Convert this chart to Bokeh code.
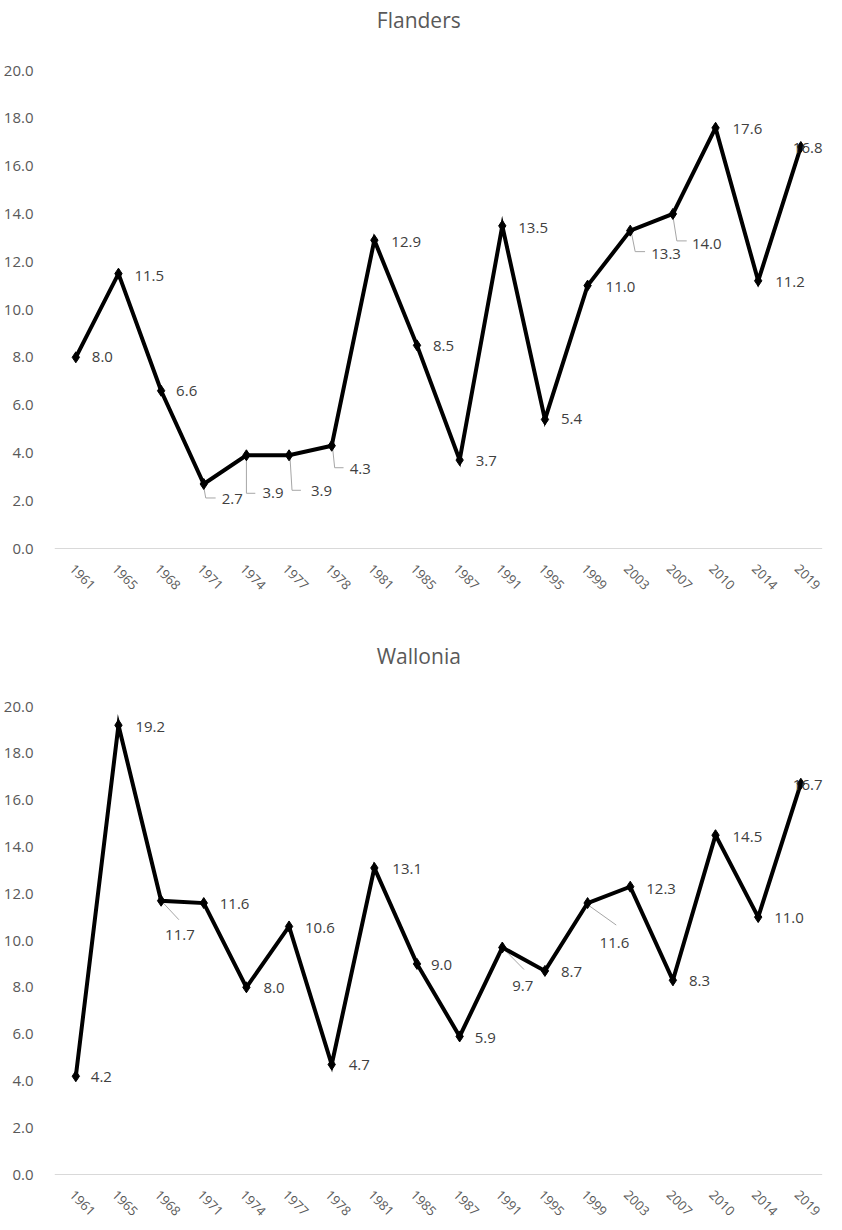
import math
from bokeh.plotting import figure
from bokeh.models import ColumnDataSource, LabelSet, Label, FixedTicker, Range1d, PrintfTickFormatter
from bokeh.layouts import column
from bokeh.embed import file_html
from bokeh.resources import INLINE
from bokeh.core.properties import value

# ---------------- data ----------------
years = ["1961", "1965", "1968", "1971", "1974", "1977", "1978", "1981", "1985",
         "1987", "1991", "1995", "1999", "2003", "2007", "2010", "2014", "2019"]
flanders = [8.0, 11.5, 6.6, 2.7, 3.9, 3.9, 4.3, 12.9, 8.5, 3.7, 13.5, 5.4,
            11.0, 13.3, 14.0, 17.6, 11.2, 16.8]
wallonia = [4.2, 19.2, 11.7, 11.6, 8.0, 10.6, 4.7, 13.1, 9.0, 5.9, 9.7, 8.7,
            11.6, 12.3, 8.3, 14.5, 11.0, 16.7]
y_ticks = [0, 2, 4, 6, 8, 10, 12, 14, 16, 18, 20]
titles = ["Flanders", "Wallonia"]

# ---------------- label placement (pixels: right, down) ----------------
fl_lab_dx = [16, 16, 15, 18, 16, 22, 18, 17, 16, 16, 16, 16, 18, 21, 19, 17, 17, -8]
fl_lab_dy = [0, 2, 0, 15, 38, 36, 23, 2, 1, 1, 2, 0, 1, 23, 30, 1, 1, 1]
fl_leaders = {3: [(0, 3), (2, 14), (12, 14)],
              4: [(0, 3), (0, 38), (9, 38)],
              5: [(1, 3), (3, 35), (12, 35)],
              6: [(1, 3), (3, 22), (12, 22)],
              13: [(1, 1), (5, 21), (15, 21)],
              14: [(0, 2), (4, 27), (14, 27)]}

wa_lab_dx = [15, 17, 4, 16, 17, 16, 17, 18, 14, 15, 10, 16, 12, 16, 16, 17, 16, -8]
wa_lab_dy = [1, 2, 34, 1, 1, 2, 0, 1, 1, 2, 38, 1, 40, 2, 1, 2, 1, 1]
wa_leaders = {2: [(1, 1), (18, 19)],
              10: [(3, 3), (22, 22)],
              12: [(2, 3), (29, 22)]}

FONT = "Open Sans"
FIG_W = 826
LEFT = 44
FRAME_W = FIG_W - LEFT
PX_PER_CAT = 43.2
X_START = -0.5
X_END = X_START + FRAME_W / PX_PER_CAT
TITLE_PAGE_X = 421


def make_fig(title, vals, lab_dx, lab_dy, leaders, height, top_px, zero_px, title_px):
    """top_px: pixels from figure top to the 20.0 line; zero_px: figure top to 0 line."""
    n = len(vals)
    px_per_y = (zero_px - top_px) / 20.0
    y_top = 20 + top_px / px_per_y
    y_bot = -(height - zero_px) / px_per_y
    p = figure(width=FIG_W, height=height,
               x_range=Range1d(X_START, X_END), y_range=Range1d(y_bot, y_top),
               output_backend="svg", toolbar_location=None, x_axis_location=None,
               min_border_left=LEFT, min_border_right=0,
               min_border_top=0, min_border_bottom=0)
    p.outline_line_color = None
    p.xgrid.visible = False
    p.ygrid.visible = False
    p.background_fill_color = "white"
    p.border_fill_color = "white"

    ya = p.yaxis[0]
    ya.ticker = FixedTicker(ticks=y_ticks)
    ya.formatter = PrintfTickFormatter(format="%.1f")
    ya.axis_line_color = None
    ya.major_tick_line_color = None
    ya.minor_tick_line_color = None
    ya.major_label_text_font = FONT
    ya.major_label_text_font_size = "15px"
    ya.major_label_text_color = "#595959"
    ya.major_label_standoff = 15

    # baseline at 0
    p.line([-0.5, n - 0.5], [0, 0], line_color="#d9d9d9", line_width=1)

    # category labels
    xs = list(range(n))
    ysrc = ColumnDataSource(dict(x=xs, y=[0] * n, t=years))
    p.add_layout(LabelSet(x="x", y="y", text="t", source=ysrc, x_offset=-4, y_offset=-18,
                          angle=-math.pi / 4, text_font=value(FONT), text_font_size="13px",
                          text_color="#595959", text_align="left", text_baseline="middle"))

    # leader lines
    lx, ly = [], []
    for i, pts in leaders.items():
        lx.append([i + a / PX_PER_CAT for a, b in pts])
        ly.append([vals[i] - b / px_per_y for a, b in pts])
    if lx:
        p.multi_line(xs=lx, ys=ly, line_color="#a6a6a6", line_width=1)

    p.line(xs, vals, line_color="black", line_width=4, line_join="miter")
    p.scatter(xs, vals, marker="diamond", size=11, fill_color="black", line_color="black")

    src = ColumnDataSource(dict(x=xs, y=vals, t=["%.1f" % v for v in vals],
                                dx=lab_dx, dy=[-d for d in lab_dy]))
    p.add_layout(LabelSet(x="x", y="y", text="t", x_offset="dx", y_offset="dy", source=src,
                          text_font=value(FONT), text_font_size="15px", text_color="#404040",
                          text_align="left", text_baseline="middle"))

    # title
    tx = X_START + (TITLE_PAGE_X - 8 - LEFT) / PX_PER_CAT
    ty = 20 + (top_px - title_px) / px_per_y
    p.add_layout(Label(x=tx, y=ty, text=title, text_font=FONT, text_font_size="21px",
                       text_color="#595959", text_align="center", text_baseline="middle"))
    return p


# figure 1: page y 0..638, 20.0 at 70, 0.0 at 548, title centre at 19
p1 = make_fig(titles[0], flanders, fl_lab_dx, fl_lab_dy, fl_leaders,
              638, 70, 548, 19)
# figure 2: page y 638..1222, 20.0 at 706, 0.0 at 1174, title centre at 655
p2 = make_fig(titles[1], wallonia, wa_lab_dx, wa_lab_dy, wa_leaders,
              584, 68, 536, 17)

layout = column(p1, p2, spacing=0)
open("out.html", "w").write(file_html(layout, INLINE))
